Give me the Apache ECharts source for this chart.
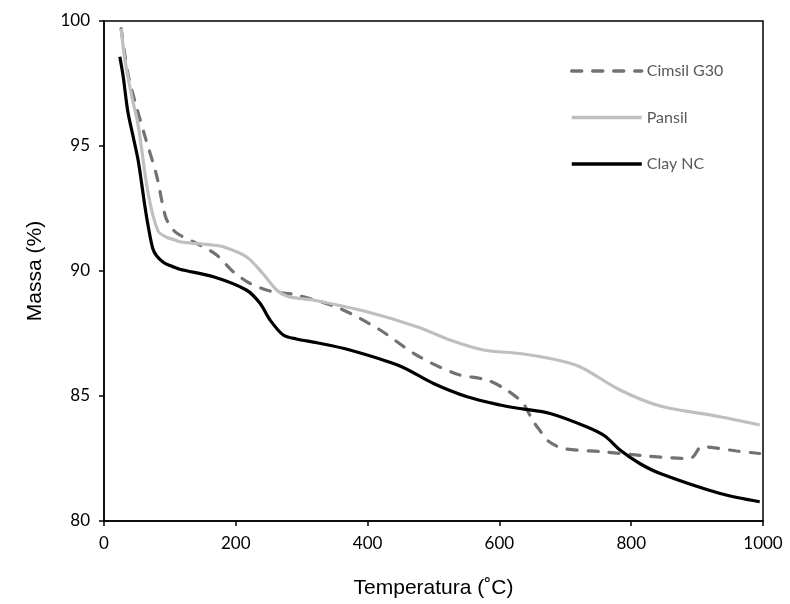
<!DOCTYPE html>
<html>
<head>
<meta charset="utf-8">
<script src="https://cdn.jsdelivr.net/npm/echarts@6/dist/echarts.min.js"></script>
<style>html,body{margin:0;padding:0;background:#fff}#c{width:790px;height:604px}</style>
</head>
<body>
<div id="c"></div>
<script>
const xTicks = [0, 200, 400, 600, 800, 1000];
const yTicks = [80, 85, 90, 95, 100];

const cimsilT = [26, 37, 50, 62, 80, 93, 103, 115, 141, 171, 196, 222, 252, 292, 358, 419, 474, 535, 581, 611, 636, 651, 662, 674, 697, 757, 824, 884, 894, 907, 960, 995];
const cimsilM = [99.7, 97.8, 96.5, 95.4, 93.8, 92.2, 91.7, 91.44, 91.1, 90.64, 89.97, 89.5, 89.2, 89.04, 88.5, 87.64, 86.64, 85.88, 85.64, 85.24, 84.7, 84.0, 83.6, 83.2, 82.9, 82.77, 82.6, 82.5, 82.57, 82.97, 82.8, 82.7];

const pansilT = [26, 32, 42, 52, 67, 82, 95, 108, 115, 163, 181, 216, 241, 262, 277, 297, 317, 399, 475, 525, 576, 631, 677, 722, 783, 844, 935, 995];
const pansilM = [99.7, 98.4, 97.0, 95.8, 93.1, 91.6, 91.35, 91.24, 91.17, 91.04, 90.97, 90.57, 89.9, 89.24, 89.0, 88.9, 88.84, 88.37, 87.77, 87.24, 86.84, 86.7, 86.5, 86.17, 85.24, 84.6, 84.17, 83.84];

const clayT = [24, 29, 36, 44, 52, 62, 67, 74, 80, 90, 98, 115, 166, 216, 237, 252, 272, 292, 323, 373, 449, 500, 551, 601, 631, 677, 733, 760, 783, 813, 844, 935, 995];
const clayM = [98.57, 97.8, 96.4, 95.4, 94.4, 92.6, 91.8, 90.9, 90.6, 90.35, 90.24, 90.07, 89.77, 89.24, 88.7, 88.04, 87.44, 87.28, 87.13, 86.84, 86.2, 85.5, 84.97, 84.64, 84.5, 84.3, 83.76, 83.4, 82.84, 82.3, 81.9, 81.1, 80.77];

const seriesNames = ['Cimsil G30', 'Pansil', 'Clay NC'];

function pairs(t, m) { return t.map((v, i) => [v, m[i]]); }

const chart = echarts.init(document.getElementById('c'), null, {renderer: 'canvas'});
const labelFont = {fontFamily: 'Lato, "Open Sans", sans-serif', fontSize: 17, color: '#000'};
chart.setOption({
  animation: false,
  backgroundColor: '#fff',
  grid: {left: 104, right: 27, top: 21, bottom: 83, show: true, borderColor: '#000', borderWidth: 1.5, containLabel: false},
  legend: {
    orient: 'vertical', left: 565, top: 58, itemWidth: 70, itemHeight: 14, itemGap: 30.5,
    data: seriesNames,
    itemStyle: {opacity: 0},
    lineStyle: {width: 3.5},
    textStyle: {fontFamily: 'Lato, "Open Sans", sans-serif', fontSize: 16, color: '#595959'}
  },
  xAxis: {
    type: 'value', min: 0, max: 1000, interval: 200,
    name: 'Temperatura (˚C)', nameLocation: 'middle', nameGap: 57,
    nameTextStyle: {fontFamily: '"Liberation Sans", Arial, sans-serif', fontSize: 21, color: '#000'},
    axisLine: {show: true, lineStyle: {color: '#000', width: 1.5}},
    axisTick: {show: true, length: 5, lineStyle: {color: '#000', width: 1.5}},
    axisLabel: Object.assign({margin: 14, formatter: v => xTicks.includes(v) ? String(v) : ''}, labelFont),
    splitLine: {show: false}
  },
  yAxis: {
    type: 'value', min: 80, max: 100, interval: 5,
    name: 'Massa (%)', nameLocation: 'middle', nameGap: 58,
    nameTextStyle: {fontFamily: '"Liberation Sans", Arial, sans-serif', fontSize: 21, color: '#000'},
    axisLine: {show: true, lineStyle: {color: '#000', width: 1.5}},
    axisTick: {show: true, length: 5, lineStyle: {color: '#000', width: 1.5}},
    axisLabel: Object.assign({margin: 14, formatter: v => yTicks.includes(v) ? String(v) : ''}, labelFont),
    splitLine: {show: false}
  },
  series: [
    {name: seriesNames[0], type: 'line', data: pairs(cimsilT, cimsilM), smooth: 0.3, symbol: 'none',
     itemStyle: {color: '#767171'},
     lineStyle: {color: '#767171', width: 3.2, type: [10, 11], cap: 'round'}},
    {name: seriesNames[1], type: 'line', data: pairs(pansilT, pansilM), smooth: 0.3, symbol: 'none',
     itemStyle: {color: '#bfbfbf'},
     lineStyle: {color: '#bfbfbf', width: 3.2}},
    {name: seriesNames[2], type: 'line', data: pairs(clayT, clayM), smooth: 0.3, symbol: 'none',
     itemStyle: {color: '#000'},
     lineStyle: {color: '#000', width: 3.2}}
  ]
});
</script>
</body>
</html>
